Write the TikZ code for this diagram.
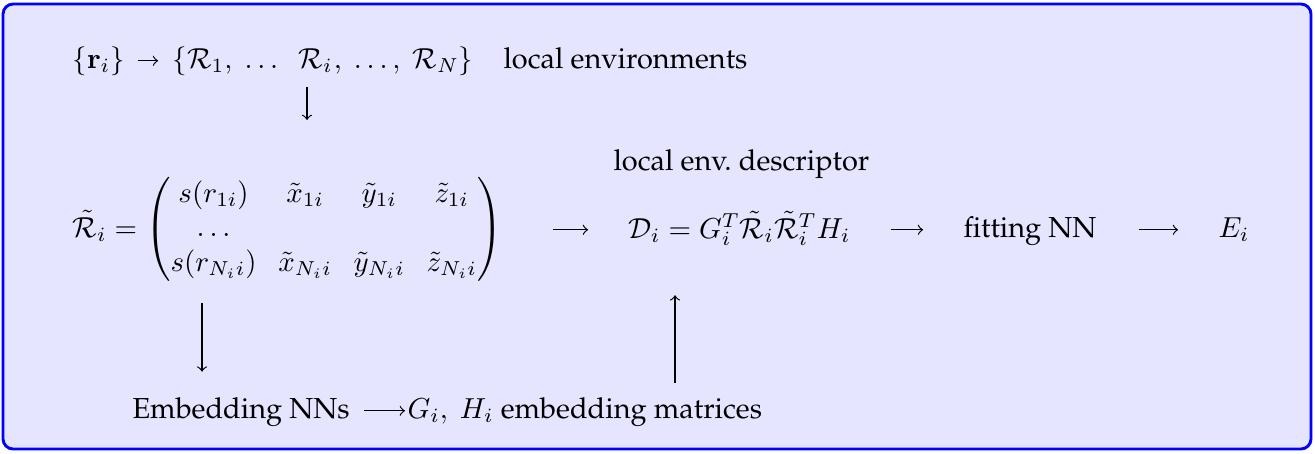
\documentclass[tikz,border=0pt]{standalone}
\usepackage[T1]{fontenc}
\usepackage{palatino}
\usepackage{amsmath}
\begin{document}
\begin{tikzpicture}[x=0.346pt,y=-0.346pt,
  lbl/.style={inner sep=0pt, anchor=base west},
  arr/.style={-to, line width=0.4pt}]
\useasboundingbox (0,0) rectangle (1315,453);
\draw[blue, line width=1pt, fill=blue!10, rounded corners=3.5pt] (3,4) rectangle (1311,449);
% row 1
\node[lbl] (rset) at (72,68) {$\{\mathbf{r}_i\}$};
\node[lbl] (envL) at (172,68) {$\{\mathcal{R}_1,\ \ldots$};
\node[lbl] (Ri) at (298,68) {$\mathcal{R}_i$};
\node[lbl, anchor=base west] (envR) at (Ri.base east) {$,\ \ldots,\ \mathcal{R}_N\}$};
\node[lbl] (locenv) at (503,68) {local environments};
\coordinate (rfree) at (307,120);
% row 2
\node[lbl] (mat) at (72,237) {\arraycolsep=3.75pt $\tilde{\mathcal{R}}_i=\begin{pmatrix} s(r_{1i}) & \tilde{x}_{1i} & \tilde{y}_{1i} & \tilde{z}_{1i}\\ \ldots \\ s(r_{N_i i}) & \tilde{x}_{N_i i} & \tilde{y}_{N_i i} & \tilde{z}_{N_i i}\end{pmatrix}$};
\node[lbl] (desc) at (613,170) {local env.\ descriptor};
\node[lbl] (D) at (628,238) {$\mathcal{D}_i=G_i^T\tilde{\mathcal{R}}_i\tilde{\mathcal{R}}_i^T H_i$};
\node[lbl] (fit) at (963,237) {fitting NN};
\node[lbl] (E) at (1218,237) {$E_i$};
% row 3
\node[lbl] (emb) at (132,418) {Embedding NNs};
\node[lbl] (gh) at (407,418) {$G_i,\ H_i$ embedding matrices};
\coordinate (cx1) at (202,0);
\coordinate (cx2) at (675,0);
% connectors
\draw[arr, shorten <=4.2pt, shorten >=4.8pt] ([yshift=2.5pt]rset.base east) -- ([yshift=2.5pt]rset.base east -| envL.west);
\draw[arr] (Ri.south -| rfree) ++(0,14) -- (rfree);
\draw[arr, shorten <=17.3pt, shorten >=13.8pt] (mat.east) -- (mat.east -| D.west);
\draw[arr, shorten <=13.8pt, shorten >=13.8pt] (D.east |- mat.east) -- (fit.west |- mat.east);
\draw[arr, shorten <=14.5pt, shorten >=13.8pt] (fit.east |- mat.east) -- (E.west |- mat.east);
\draw[arr, shorten <=7.3pt, shorten >=8.6pt] (mat.south -| cx1) -- (emb.north -| cx1);
\draw[arr, shorten <=4.8pt, shorten >=17pt] (gh.north -| cx2) -- (D.south -| cx2);
\draw[arr, shorten <=4.8pt, shorten >=0.7pt] ([yshift=2.5pt]emb.base east) -- ([yshift=2.5pt]emb.base east -| gh.west);
\end{tikzpicture}
\end{document}
